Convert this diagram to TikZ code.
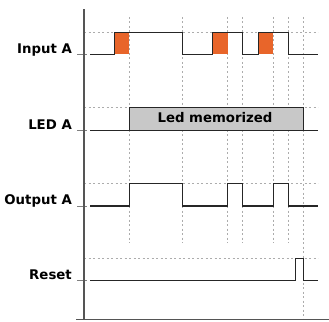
\documentclass[tikz,border=0pt]{standalone}
\usepackage{fontspec}
\setmainfont{DejaVu Sans}
\usetikzlibrary{positioning}
\definecolor{pulseorange}{HTML}{E8652A}
\definecolor{memgray}{HTML}{C8C8C8}
\definecolor{axisgray}{HTML}{555555}

\begin{document}
\begin{tikzpicture}[
    x=1pt, y=-1pt,
    rowlabel/.style={anchor=base east, inner sep=0pt, font=\fontsize{13.3}{15}\selectfont\bfseries},
    signal/.style={line width=1.1pt, black!85, line join=miter},
    guide/.style={dash pattern=on 2pt off 2.5pt, gray!65, line width=0.6pt},
    axis/.style={line width=1.2pt, axisgray},
    tick/.style={line width=0.9pt, gray}
]
\useasboundingbox (0,0) rectangle (329,321);

% guides
\foreach \t in {129.3,182.3,227.7,242.7,273.3,288.3}
  \draw[guide] (\t,17) -- (\t,243);
\draw[guide] (303.3,17) -- (303.3,319);
\foreach \hi in {32.3,107.3,183.3,258.7}
  \draw[guide] (84,\hi) -- (318,\hi);

% row labels
\node[rowlabel] (inA) at (72,53) {Input A};
\node[rowlabel] (ledA) at (72,129.3) {LED A};
\node[rowlabel] (outA) at (72,204.8) {Output A};
\node[rowlabel] (rst) at (72,279.5) {Reset};
\foreach \lo in {54.3,130.7,206,280.7}
  \draw[tick] (77,\lo) -- (87,\lo);

% input A
\foreach \a/\b in {114.7/129.3,212.7/227.7,258.3/273.3}
  \fill[pulseorange] (\a,32.3) rectangle (\b,54.3);
\draw[signal] (90,54.3) -- (114.7,54.3) -- (114.7,32.3) -- (182.3,32.3) -- (182.3,54.3)
  -- (212.7,54.3) -- (212.7,32.3) -- (242.7,32.3) -- (242.7,54.3) -- (258.3,54.3)
  -- (258.3,32.3) -- (288.3,32.3) -- (288.3,54.3) -- (318,54.3);

% LED A
\draw[signal] (90,130.7) -- (318,130.7);
\draw[signal, fill=memgray] (129.3,107.3) rectangle (303.3,130.7);
\node[anchor=base, inner sep=0pt, font=\fontsize{13.3}{15}\selectfont\bfseries] (mem) at (215,122.5) {Led memorized};

% output A
\draw[signal] (90,206) -- (129.3,206) -- (129.3,183.3) -- (182.3,183.3) -- (182.3,206)
  -- (227.7,206) -- (227.7,183.3) -- (242.7,183.3) -- (242.7,206) -- (273.3,206)
  -- (273.3,183.3) -- (288.3,183.3) -- (288.3,206) -- (318,206);

% reset
\draw[signal] (90,280.7) -- (295.7,280.7) -- (295.7,258.7) -- (303.3,258.7) -- (303.3,280.7) -- (318,280.7);

% axes
\draw[axis] (84,9.5) -- (84,319.5);
\draw[axis] (76,319.5) -- (329,319.5);
\end{tikzpicture}
\end{document}
